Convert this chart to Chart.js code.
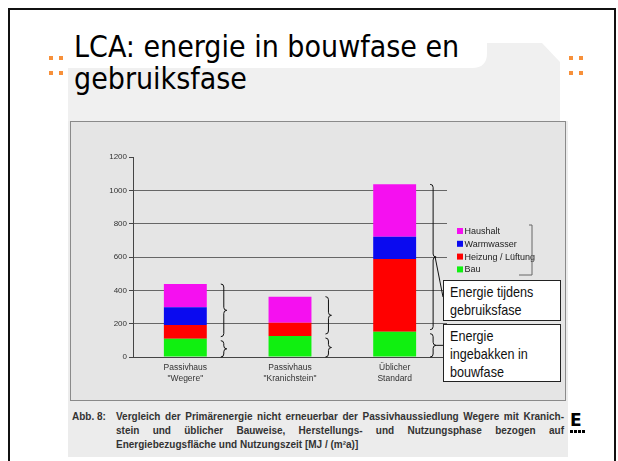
<!DOCTYPE html>
<html>
<head>
<meta charset="utf-8">
<script src="https://cdn.jsdelivr.net/npm/chart.js@4.4.0/dist/chart.umd.min.js"></script>
<style>
  html, body { margin: 0; padding: 0; background: #fff; }
  body { width: 618px; height: 461px; position: relative; overflow: hidden; font-family: "Liberation Sans", Arial, sans-serif; }
  #slide { position: absolute; left: 8px; top: 8px; width: 608px; height: 470px; border: 2px solid #111; box-sizing: border-box; }
  #deco { position: absolute; left: 0; top: 0; }
  .dot { position: absolute; width: 4px; height: 4px; background: #f7903a; }
  #title { position: absolute; left: 74px; top: 31px; font-family: "DejaVu Sans Condensed", "DejaVu Sans", sans-serif; font-size: 30px; line-height: 32px; color: #000; white-space: nowrap; }
  #scan { position: absolute; left: 68px; top: 121px; width: 500px; height: 336px; background: #ececec; }
  #frame { position: absolute; left: 70px; top: 121px; width: 496px; height: 280px; border: 1px solid #8a8a8a; box-sizing: border-box; background: #e5e5e5; }
  #chartWrap { position: absolute; left: 70px; top: 121px; width: 496px; height: 280px; }
  .box { position: absolute; left: 443px; width: 118px; background: #fff; border: 1px solid #222; box-sizing: border-box; font-size: 15px; line-height: 18px; color: #111; padding: 2px 0 0 6px; white-space: nowrap; }
  .box span { display: inline-block; transform: scaleX(0.84); transform-origin: left center; }
  #caption { position: absolute; left: 72px; top: 410px; width: 492px; font-weight: bold; font-size: 10px; line-height: 14px; color: #333; }
  #caption .lbl { position: absolute; left: 0; top: 0; }
  #caption .txt { position: absolute; left: 44px; top: 0; width: 448px; }
  #caption .j { text-align: justify; text-align-last: justify; }
  #logo { position: absolute; left: 570px; top: 411px; font-family: "DejaVu Sans", sans-serif; font-weight: bold; font-size: 17px; line-height: 18px; color: #000; }
  #logoBar { position: absolute; left: 570px; top: 430px; width: 15px; height: 3px;
    background: repeating-linear-gradient(90deg, #000 0 3px, transparent 3px 4px); }
</style>
</head>
<body>
<div id="slide"></div>
<svg id="deco" width="618" height="461">
  <path d="M68,68 L472,68 Q487,68 487,53 L487,43 L542,43 L560,62 L560,125 L68,125 Z" fill="#f0f0f0"/>
</svg>
<div class="dot" style="left:49px;top:56px"></div>
<div class="dot" style="left:59px;top:56px"></div>
<div class="dot" style="left:49px;top:71px"></div>
<div class="dot" style="left:59px;top:71px"></div>
<div class="dot" style="left:569px;top:56px"></div>
<div class="dot" style="left:579px;top:56px"></div>
<div class="dot" style="left:569px;top:71px"></div>
<div class="dot" style="left:579px;top:71px"></div>
<div id="title">LCA: energie in bouwfase en<br>gebruiksfase</div>

<div id="scan"></div>
<div id="frame"></div>
<div id="chartWrap"><canvas id="chart" width="496" height="280"></canvas></div>

<div class="box" style="top:280px;height:41px"><span>Energie tijdens</span><br><span>gebruiksfase</span></div>
<div class="box" style="top:324px;height:58px"><span>Energie</span><br><span>ingebakken in</span><br><span>bouwfase</span></div>

<div id="caption">
  <div class="lbl">Abb. 8:</div>
  <div class="txt">
    <div class="j">Vergleich der Primärenergie nicht erneuerbar der Passivhaussiedlung Wegere mit Kranich-</div>
    <div class="j">stein und üblicher Bauweise, Herstellungs- und Nutzungsphase bezogen auf</div>
    <div>Energiebezugsfläche und Nutzungszeit [MJ / (m²a)]</div>
  </div>
</div>
<div id="logo">E</div>
<div id="logoBar"></div>

<script>
// values, MJ / (m²a)
const CATEGORIES = [['Passivhaus', '"Wegere"'], ['Passivhaus', '"Kranichstein"'], ['Üblicher', 'Standard']];
const BAU        = [110, 126, 152];
const HEIZUNG    = [82, 80, 436];
const WARMWASSER = [106, 0, 134];
const HAUSHALT   = [140, 156, 314];
const Y_TICKS    = [0, 200, 400, 600, 800, 1000, 1200];

const SERIES = [
  { label: 'Bau',               data: BAU,        color: '#10f010' },
  { label: 'Heizung / Lüftung', data: HEIZUNG,    color: '#ff0000' },
  { label: 'Warmwasser',        data: WARMWASSER, color: '#0a0af0' },
  { label: 'Haushalt',          data: HAUSHALT,   color: '#f510f0' },
];

const FONT = '"Liberation Sans", Arial, sans-serif';

function drawBrace(ctx, x, top, bottom, w) {
  const mid = (top + bottom) / 2, h = w / 2;
  ctx.beginPath();
  ctx.moveTo(x, top);
  ctx.quadraticCurveTo(x + h, top, x + h, top + h);
  ctx.lineTo(x + h, mid - h);
  ctx.quadraticCurveTo(x + h, mid, x + w, mid);
  ctx.quadraticCurveTo(x + h, mid, x + h, mid + h);
  ctx.lineTo(x + h, bottom - h);
  ctx.quadraticCurveTo(x + h, bottom, x, bottom);
  ctx.stroke();
}

// braces, pointer lines and the little legend
const annotations = {
  id: 'annotations',
  afterDraw(chart) {
    const { ctx, chartArea, scales: { y } } = chart;
    const bars = chart.getDatasetMeta(0).data;
    const BOX_LEFT = 373;
    ctx.save();
    ctx.strokeStyle = '#111';
    ctx.lineWidth = 1;
    bars.forEach((bar, i) => {
      const bx = bar.x + bar.width / 2 + 14;
      const total = BAU[i] + HEIZUNG[i] + WARMWASSER[i] + HAUSHALT[i];
      const yTot = y.getPixelForValue(total);
      const yBau = y.getPixelForValue(BAU[i]);
      const y0 = y.getPixelForValue(0);
      drawBrace(ctx, bx, yTot, yBau - 2, 6);
      drawBrace(ctx, bx, yBau + 2, y0, 6);
      if (i === bars.length - 1) {
        ctx.beginPath();
        ctx.moveTo(bx + 5, (yTot + yBau - 2) / 2);
        ctx.lineTo(BOX_LEFT, 176);
        ctx.moveTo(bx + 6, (yBau + 2 + y0) / 2);
        ctx.lineTo(BOX_LEFT, (yBau + 2 + y0) / 2);
        ctx.stroke();
      }
    });

    // legend (top to bottom: Haushalt ... Bau)
    const lx = chartArea.right + 10;
    let ly = chartArea.top + 74;
    ctx.font = '9px ' + FONT;
    ctx.textBaseline = 'middle';
    [...SERIES].reverse().forEach(s => {
      ctx.fillStyle = s.color;
      ctx.fillRect(lx, ly - 3, 6, 6);
      ctx.fillStyle = '#222';
      ctx.fillText(s.label, lx + 7.5, ly + 0.5);
      ly += 12.8;
    });
    ctx.strokeStyle = '#666';
    ctx.beginPath();
    ctx.moveTo(lx + 72, chartArea.top + 68);
    ctx.lineTo(lx + 75, chartArea.top + 68);
    ctx.lineTo(lx + 75, chartArea.top + 118);
    ctx.lineTo(lx + 62, chartArea.top + 118);
    ctx.stroke();
    ctx.restore();
  }
};

new Chart(document.getElementById('chart'), {
  type: 'bar',
  data: {
    labels: CATEGORIES,
    datasets: SERIES.map(s => ({
      label: s.label,
      data: s.data,
      backgroundColor: s.color,
      borderWidth: 0,
      categoryPercentage: 1,
      barPercentage: 0.41,
    })),
  },
  options: {
    responsive: false,
    animation: false,
    layout: { padding: { left: 33, right: 119, top: 36, bottom: 14 } },
    plugins: { legend: { display: false }, tooltip: { enabled: false } },
    scales: {
      x: {
        stacked: true,
        grid: { display: false, drawTicks: false },
        border: { display: true, color: '#444' },
        ticks: { color: '#333', font: { family: FONT, size: 8.5 }, padding: 6, maxRotation: 0 },
        afterFit: s => { s.height = 30; },
      },
      y: {
        stacked: true,
        min: 0, max: 1200,
        afterBuildTicks: s => { s.ticks = Y_TICKS.map(v => ({ value: v })); },
        grid: {
          color: c => (c.tick && c.tick.value === 1200) || (c.tick && c.tick.value === 0) ? 'rgba(0,0,0,0)' : '#666',
          tickColor: '#444',
          tickLength: 4,
        },
        border: { display: true, color: '#444' },
        ticks: { color: '#333', font: { family: FONT, size: 8 }, padding: 2, callback: v => String(v) },
        afterFit: s => { s.width = 30; },
      },
    },
  },
  plugins: [annotations],
});
</script>
</body>
</html>
